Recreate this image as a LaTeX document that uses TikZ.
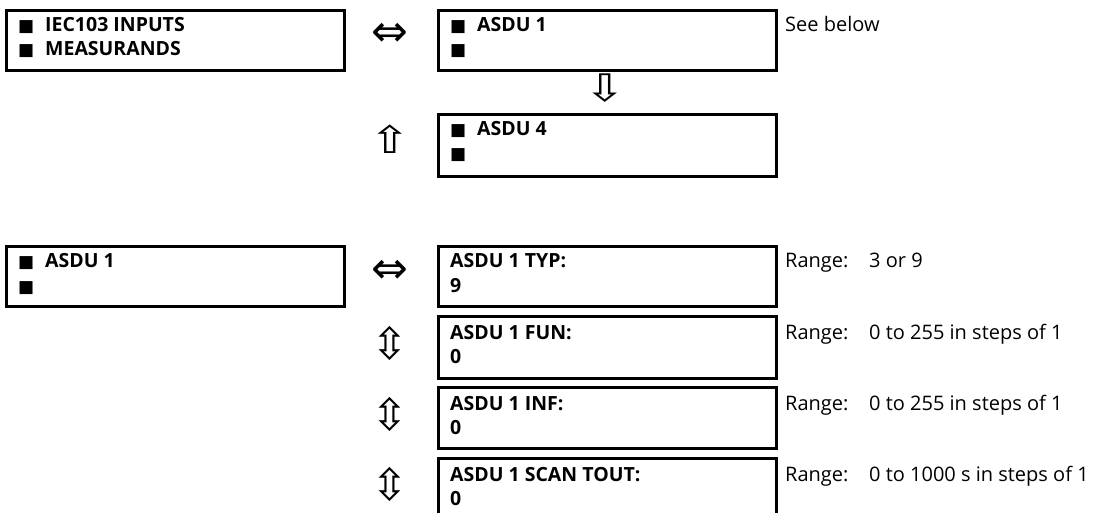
\documentclass[tikz,border=0pt]{standalone}
\usepackage{fontspec}
\setmainfont{Open Sans}
\newfontfamily\symf{DejaVu Sans}
\begin{document}
\begin{tikzpicture}[x=1pt,y=-1pt,
  box/.style={draw, line width=2.8pt, anchor=north west, minimum width=338pt, inner sep=0pt},
  lbl/.style={anchor=base west, inner sep=0pt, font=\fontsize{19.5}{19.5}\selectfont\bfseries},
  rng/.style={anchor=base west, inner sep=0pt, font=\fontsize{20}{20}\selectfont},
  sq/.style={anchor=base west, inner sep=0pt, font=\fontsize{17}{17}\symf},
  arrh/.style={inner sep=0pt, font=\fontsize{44}{44}\symf},
  arrv/.style={inner sep=0pt, font=\fontsize{38}{38}\symf, xscale=1.3},
  arrud/.style={inner sep=0pt, font=\fontsize{44}{44}\symf}]
\useasboundingbox (0,0) rectangle (1098,513);
\clip (0,0) rectangle (1098,513);
% top section
\node[box, minimum height=60pt] (iec) at (5,9) {};
\node[sq] (iecq1) at (18,32) {■};
\node[lbl] (iect1) at (45,32) {IEC103 INPUTS};
\node[sq] (iecq2) at (18,56) {■};
\node[lbl] (iect2) at (45,56) {MEASURANDS};
\node[arrh] (a1) at (390,35) {⇔};
\node[box, minimum height=60pt] (asdu1) at (437,9) {};
\node[sq] (asdu1q1) at (450,32) {■};
\node[lbl] (asdu1t1) at (477,32) {ASDU 1};
\node[sq] (asdu1q2) at (450,56) {■};
\node[rng] (see) at (785,32) {See below};
\node[arrv] (a2) at (605,88) {⇩};
\node[arrv] (a3) at (390,139) {⇧};
\node[box, minimum height=62pt] (asdu4) at (437,113) {};
\node[sq] (asdu4q1) at (450,136) {■};
\node[lbl] (asdu4t1) at (477,136) {ASDU 4};
\node[sq] (asdu4q2) at (450,160) {■};
% bottom section
\node[box, minimum height=60pt] (left2) at (5,245) {};
\node[sq] (left2q1) at (18,268) {■};
\node[lbl] (left2t1) at (45,268) {ASDU 1};
\node[sq] (left2q2) at (18,292) {■};
\node[arrh] (b1) at (390,272) {⇔};
\node[box, minimum height=60pt] (typ) at (437,245) {};
\node[lbl] (typt1) at (450,268) {ASDU 1 TYP:};
\node[lbl] (typt2) at (450,292) {9};
\node[rng] (typr) at (785,268) {Range:};
\node[rng] (typv) at (869,268) {3 or 9};
\node[arrud] (b2) at (390,343) {⇳};
\node[box, minimum height=62pt] (fun) at (437,315) {};
\node[lbl] (funt1) at (450,339) {ASDU 1 FUN:};
\node[lbl] (funt2) at (450,363) {0};
\node[rng] (funr) at (785,339) {Range:};
\node[rng] (funv) at (869,339) {0 to 255 in steps of 1};
\node[arrud] (b3) at (390,414) {⇳};
\node[box, minimum height=61pt] (inf) at (437,386) {};
\node[lbl] (inft1) at (450,410) {ASDU 1 INF:};
\node[lbl] (inft2) at (450,434) {0};
\node[rng] (infr) at (785,410) {Range:};
\node[rng] (infv) at (869,410) {0 to 255 in steps of 1};
\node[arrud] (b4) at (390,484) {⇳};
\node[box, minimum height=64pt] (scan) at (437,457) {};
\node[lbl] (scant1) at (450,481) {ASDU 1 SCAN TOUT:};
\node[lbl] (scant2) at (450,505) {0};
\node[rng] (scanr) at (785,481) {Range:};
\node[rng] (scanv) at (869,481) {0 to 1000 s in steps of 1};
\end{tikzpicture}
\end{document}
